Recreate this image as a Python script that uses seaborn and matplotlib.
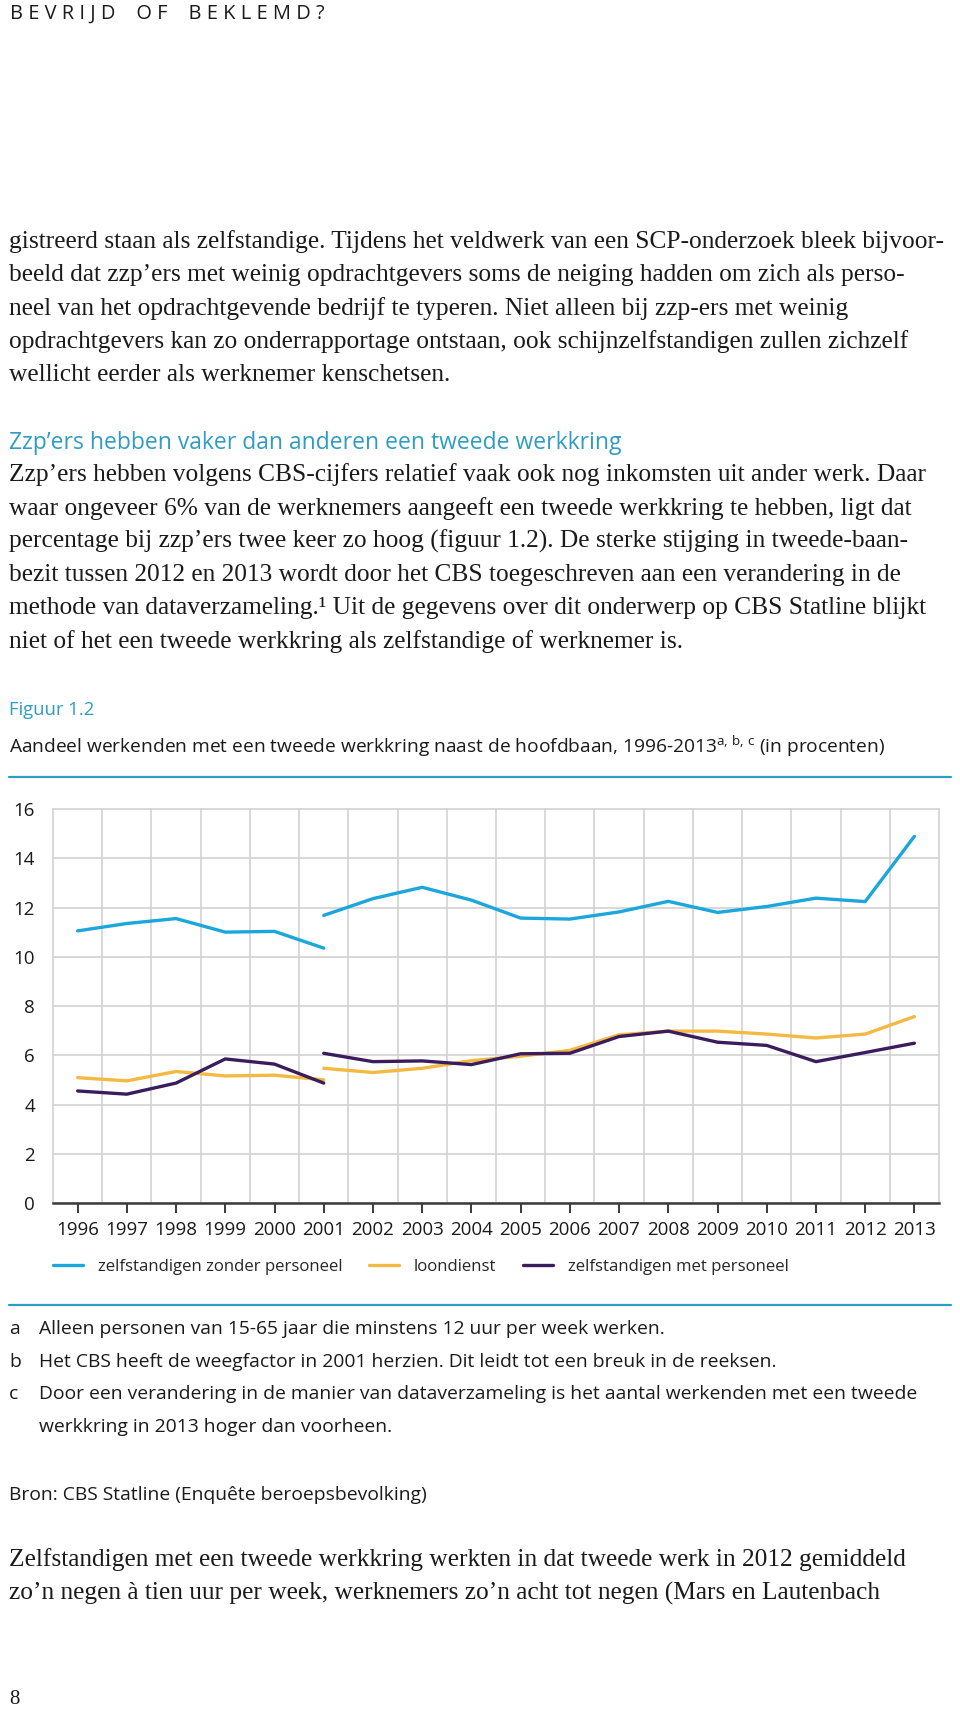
import numpy as np
import pandas as pd
import matplotlib
matplotlib.use("Agg")
import matplotlib.pyplot as plt
from matplotlib.lines import Line2D
import seaborn as sns

# data (percentages); series break in 2001 (new weighting)
years_old = [1996, 1997, 1998, 1999, 2000, 2001]
years_new = [2001, 2002, 2003, 2004, 2005, 2006, 2007, 2008, 2009, 2010, 2011, 2012, 2013]

zzp_old = [11.05, 11.35, 11.55, 11.0, 11.03, 10.35]
zzp_new = [11.68, 12.36, 12.82, 12.3, 11.57, 11.53, 11.82, 12.25, 11.8, 12.04, 12.38, 12.24, 14.89]
loon_old = [5.09, 4.96, 5.34, 5.16, 5.19, 5.0]
loon_new = [5.47, 5.30, 5.47, 5.78, 5.96, 6.2, 6.83, 6.98, 6.98, 6.86, 6.70, 6.86, 7.57]
zmp_old = [4.55, 4.42, 4.87, 5.85, 5.64, 4.87]
zmp_new = [6.08, 5.74, 5.77, 5.62, 6.06, 6.08, 6.76, 6.98, 6.53, 6.40, 5.74, 6.11, 6.49]

series_names = ["zelfstandigen zonder personeel", "loondienst", "zelfstandigen met personeel"]
series_colors = ["#1ba6dc", "#f4b942", "#3b1d5e"]
y_ticks = [0, 2, 4, 6, 8, 10, 12, 14, 16]

header = "B E V R I J D    O F    B E K L E M D ?"
para1 = [
    "gistreerd staan als zelfstandige. Tijdens het veldwerk van een SCP-onderzoek bleek bijvoor-",
    "beeld dat zzp’ers met weinig opdrachtgevers soms de neiging hadden om zich als perso-",
    "neel van het opdrachtgevende bedrijf te typeren. Niet alleen bij zzp-ers met weinig",
    "opdrachtgevers kan zo onderrapportage ontstaan, ook schijnzelfstandigen zullen zichzelf",
    "wellicht eerder als werknemer kenschetsen.",
]
heading2 = "Zzp’ers hebben vaker dan anderen een tweede werkkring"
para2 = [
    "Zzp’ers hebben volgens CBS-cijfers relatief vaak ook nog inkomsten uit ander werk. Daar",
    "waar ongeveer 6% van de werknemers aangeeft een tweede werkkring te hebben, ligt dat",
    "percentage bij zzp’ers twee keer zo hoog (figuur 1.2). De sterke stijging in tweede-baan-",
    "bezit tussen 2012 en 2013 wordt door het CBS toegeschreven aan een verandering in de",
    "methode van dataverzameling.¹ Uit de gegevens over dit onderwerp op CBS Statline blijkt",
    "niet of het een tweede werkkring als zelfstandige of werknemer is.",
]
fig_label = "Figuur 1.2"
fig_title = r"Aandeel werkenden met een tweede werkkring naast de hoofdbaan, 1996-2013$^{\mathrm{a,\,b,\,c}}$ (in procenten)"
notes = [
    ("a", "Alleen personen van 15-65 jaar die minstens 12 uur per week werken."),
    ("b", "Het CBS heeft de weegfactor in 2001 herzien. Dit leidt tot een breuk in de reeksen."),
    ("c", "Door een verandering in de manier van dataverzameling is het aantal werkenden met een tweede"),
    ("", "werkkring in 2013 hoger dan voorheen."),
]
source = "Bron: CBS Statline (Enquête beroepsbevolking)"
para3 = [
    "Zelfstandigen met een tweede werkkring werkten in dat tweede werk in 2012 gemiddeld",
    "zo’n negen à tien uur per week, werknemers zo’n acht tot negen (Mars en Lautenbach",
]
page_no = "8"

# long form table for seaborn
rows = []
for name, old, new in zip(series_names, [zzp_old, loon_old, zmp_old], [zzp_new, loon_new, zmp_new]):
    for yr, v in zip(years_old, old):
        rows.append((yr, v, name, "tot 2001"))
    for yr, v in zip(years_new, new):
        rows.append((yr, v, name, "vanaf 2001"))
df = pd.DataFrame(rows, columns=["jaar", "procent", "reeks", "periode"])

sns.set_style("white")
plt.rcParams["font.family"] = ["Open Sans", "DejaVu Sans"]
plt.rcParams["mathtext.fontset"] = "custom"
plt.rcParams["mathtext.rm"] = "Open Sans"
plt.rcParams["mathtext.it"] = "Open Sans:italic"
plt.rcParams["mathtext.bf"] = "Open Sans:bold"

W, H = 960, 1710
teal = "#2f9cc4"
ink = "#1a1a1a"
serif = ["Liberation Serif", "DejaVu Serif"]
body_size = 18.3
note_size = 13.9

fig = plt.figure(figsize=(W / 100, H / 100), dpi=100)


def fx(x):
    return x / W


def fy(y):
    return 1 - y / H


# page text
fig.text(fx(10), fy(14), header, fontsize=14.4, color=ink, va="center")
for i, line in enumerate(para1):
    fig.text(fx(9), fy(242 + 33.3 * i), line, fontsize=body_size, family=serif, color=ink, va="center")
fig.text(fx(9), fy(443), heading2, fontsize=16.5, color=teal, va="center")
for i, line in enumerate(para2):
    fig.text(fx(9), fy(475 + 33.3 * i), line, fontsize=body_size, family=serif, color=ink, va="center")
fig.text(fx(9), fy(710), fig_label, fontsize=13.3, color=teal, va="center")
fig.text(fx(9), fy(746), fig_title, fontsize=13.8, color=ink, va="center")
for y in (777, 1305):
    fig.add_artist(Line2D([fx(9), fx(951)], [fy(y), fy(y)], color=teal, lw=1.6,
                          transform=fig.transFigure))
for i, (letter, txt) in enumerate(notes):
    fig.text(fx(9), fy(1329 + 32.7 * i), letter, fontsize=note_size, color=ink, va="center")
    fig.text(fx(39), fy(1329 + 32.7 * i), txt, fontsize=note_size, color=ink, va="center")
fig.text(fx(9), fy(1495), source, fontsize=note_size, color=ink, va="center")
for i, line in enumerate(para3):
    fig.text(fx(9), fy(1560 + 33.3 * i), line, fontsize=body_size, family=serif, color=ink, va="center")
fig.text(fx(9), fy(1699), page_no, fontsize=15, family=serif, color=ink, va="center")

# chart
ax = fig.add_axes([fx(53), fy(1203), fx(939) - fx(53), (1203 - 809) / H])
sns.lineplot(data=df, x="jaar", y="procent", hue="reeks", units="periode", estimator=None,
             palette=dict(zip(series_names, series_colors)), hue_order=series_names,
             linewidth=2.4, ax=ax)

ax.set_xlim(1995.5, 2013.5)
ax.set_ylim(0, 16)
ax.set_xticks(years_old[:-1] + years_new)
ax.set_xticks(np.arange(1995.5, 2014, 1), minor=True)
ax.set_yticks(y_ticks)
ax.set_xlabel("")
ax.set_ylabel("")
ax.grid(False)
ax.grid(which="minor", axis="x", color="#d2d2d2", lw=1.2)
ax.grid(which="major", axis="y", color="#d2d2d2", lw=1.2)
for t in ax.xaxis.get_minor_ticks() + ax.yaxis.get_major_ticks():
    t.gridline.set_clip_on(False)
for side in ("top", "left", "right"):
    ax.spines[side].set_visible(False)
ax.spines["bottom"].set_color("#3a3a3a")
ax.spines["bottom"].set_linewidth(1.8)
ax.spines["bottom"].set_zorder(3)
ax.tick_params(axis="x", which="major", bottom=True, length=7, width=1.4, color="#3a3a3a",
               direction="out", pad=6, labelsize=13.5, labelcolor=ink)
ax.tick_params(axis="x", which="minor", length=0)
ax.tick_params(axis="y", length=0, pad=13, labelsize=13.5, labelcolor=ink)

sns.move_legend(ax, "center left", bbox_to_anchor=(0, (1203 - 1267) / 394), ncol=3,
                frameon=False, title=None, borderaxespad=0, borderpad=0,
                handlelength=1.8, handletextpad=0.85, columnspacing=1.6, fontsize=12.1)

fig.savefig("out.png", dpi=100)
